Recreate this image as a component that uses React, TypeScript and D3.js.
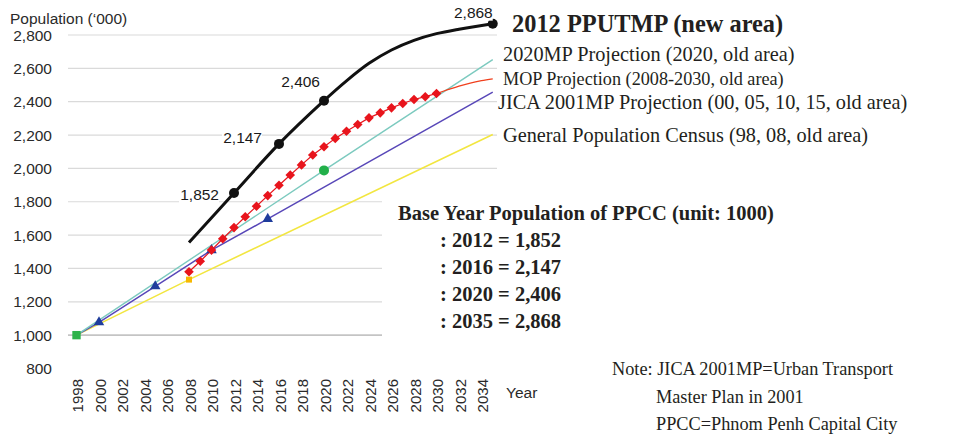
import React from 'react';
import * as d3 from 'd3';

// ---------- data ----------
const yTickValues = [800, 1000, 1200, 1400, 1600, 1800, 2000, 2200, 2400, 2600, 2800];
const xTickYears = [1998, 2000, 2002, 2004, 2006, 2008, 2010, 2012, 2014, 2016, 2018, 2020, 2022, 2024, 2026, 2028, 2030, 2032, 2034];

const ppYears = [2008, 2012, 2016, 2020, 2022, 2024, 2026, 2028, 2030, 2032, 2035];
const ppValues = [1555, 1852, 2147, 2406, 2525, 2630, 2710, 2768, 2808, 2835, 2868];
const ppMarkerYears = [2012, 2016, 2020, 2035];
const ppMarkerValues = [1852, 2147, 2406, 2868];
const ppMarkerLabels = ['1,852', '2,147', '2,406', '2,868'];

const mopYears = [2008, 2009, 2010, 2011, 2012, 2013, 2014, 2015, 2016, 2017, 2018, 2019, 2020, 2021, 2022, 2023, 2024, 2025, 2026, 2027, 2028, 2029, 2030];
const mopValues = [1380, 1443, 1510, 1578, 1645, 1710, 1773, 1837, 1899, 1960, 2021, 2080, 2130, 2180, 2223, 2263, 2303, 2333, 2363, 2389, 2413, 2430, 2449];
const mopExtYears = [2030, 2031, 2032, 2033, 2034, 2035];
const mopExtValues = [2449, 2472, 2494, 2512, 2526, 2537];

const mp2020Years = [1998, 2020, 2035];
const mp2020Values = [1000, 1988, 2652];
const mp2020MarkerYears = [2020];
const mp2020MarkerValues = [1988];

const jicaYears = [1998, 2000, 2005, 2010, 2015, 2035];
const jicaValues = [1000, 1077, 1293, 1510, 1697, 2457];
const jicaMarkerYears = [2000, 2005, 2010, 2015];
const jicaMarkerValues = [1077, 1293, 1510, 1697];

const censusYears = [1998, 2008, 2035];
const censusValues = [1000, 1333, 2203];
const censusMarkerYears = [2008];
const censusMarkerValues = [1333];

const baseYearTitle = 'Base Year Population of PPCC (unit: 1000)';
const baseYearLines = [': 2012 = 1,852', ': 2016 = 2,147', ': 2020 = 2,406', ': 2035 = 2,868'];
const noteLines = ['Note: JICA 2001MP=Urban Transport', 'Master Plan in 2001', 'PPCC=Phnom Penh Capital City'];

const legendTexts = [
  '2012 PPUTMP (new area)',
  '2020MP Projection (2020, old area)',
  'MOP Projection (2008-2030, old area)',
  'JICA 2001MP Projection (00, 05, 10, 15, old area)',
  'General Population Census (98, 08, old area)',
];

// ---------- layout / style ----------
const W = 956;
const H = 437;
const SANS = '"Liberation Sans", Arial, sans-serif';
const SERIF = '"Liberation Serif", "Times New Roman", serif';

const legendLayout = [
  { x: 512, y: 32, size: 24.4, weight: 'bold' },
  { x: 503, y: 61, size: 20.3, weight: 'normal' },
  { x: 503, y: 85, size: 18.2, weight: 'normal' },
  { x: 498, y: 109, size: 20.3, weight: 'normal' },
  { x: 503, y: 142, size: 20.3, weight: 'normal' },
];
const ppLabelOffsets = [
  { dx: -15, dy: 7 },
  { dx: -17, dy: -1 },
  { dx: -4, dy: -14 },
  { dx: 0, dy: -6 },
];

const pts = (xs: number[], ys: number[]) => xs.map((x, i) => [x, ys[i]] as [number, number]);

export default function App() {
  const x = d3.scaleLinear().domain([1998, 2035]).range([76.5, 492.75]);
  const y = d3.scaleLinear().domain([800, 2800]).range([368.5, 35]);

  const line = d3.line<[number, number]>().x((d) => x(d[0])).y((d) => y(d[1]));
  const smooth = d3
    .line<[number, number]>()
    .x((d) => x(d[0]))
    .y((d) => y(d[1]))
    .curve(d3.curveCatmullRom.alpha(0.5));

  const triangle = d3.symbol().type(d3.symbolTriangle).size(48)()!;
  const square = d3.symbol().type(d3.symbolSquare).size(46)()!;
  const bigSquare = d3.symbol().type(d3.symbolSquare).size(70)()!;
  const smallSquare = d3.symbol().type(d3.symbolSquare).size(36)()!;

  return (
    <svg width={W} height={H} style={{ position: 'absolute', left: 0, top: 0, background: '#fff' }}>
      <rect x={0} y={0} width={W} height={H} fill="#fff" />

      {/* gridlines */}
      {yTickValues
        .filter((v) => v >= 1000)
        .map((v) => (
          <line
            key={'g' + v}
            x1={68}
            x2={497}
            y1={y(v)}
            y2={y(v)}
            stroke={v === 1000 ? '#c4c4c4' : '#dadada'}
            strokeWidth={v === 1000 ? 1.6 : 1.2}
          />
        ))}

      {/* white box behind base year block */}
      <rect x={382} y={196} width={W - 382} height={146} fill="#fff" />

      {/* y-axis labels */}
      {yTickValues.map((v) => (
        <text
          key={'yl' + v}
          x={52}
          y={y(v)}
          dy="0.36em"
          textAnchor="end"
          fontFamily={SANS}
          fontSize={15.5}
          fill="#2a2a2a"
        >
          {d3.format(',')(v)}
        </text>
      ))}
      <text x={10} y={24} fontFamily={SANS} fontSize={15.5} fill="#2a2a2a">
        Population (‘000)
      </text>

      {/* x-axis labels */}
      {xTickYears.map((yr) => (
        <text
          key={'xl' + yr}
          transform={`translate(${x(yr) + 1.5},379) rotate(-90)`}
          dy="0.36em"
          textAnchor="end"
          fontFamily={SANS}
          fontSize={15}
          fill="#2a2a2a"
        >
          {yr}
        </text>
      ))}
      <text x={506} y={398} fontFamily={SANS} fontSize={15.5} fill="#2a2a2a">
        Year
      </text>

      {/* Census (yellow) */}
      <path d={line(pts(censusYears, censusValues))!} fill="none" stroke="#f2e640" strokeWidth={1.6} />
      {/* JICA (purple) */}
      <path d={line(pts(jicaYears, jicaValues))!} fill="none" stroke="#5847b8" strokeWidth={1.5} />
      {/* 2020MP (teal) */}
      <path d={line(pts(mp2020Years, mp2020Values))!} fill="none" stroke="#7ccabf" strokeWidth={1.4} />
      {/* MOP (red) */}
      <path d={smooth(pts(mopExtYears, mopExtValues))!} fill="none" stroke="#f0401e" strokeWidth={1.3} />
      <path d={line(pts(mopYears, mopValues))!} fill="none" stroke="#e8141c" strokeWidth={1.2} />

      {/* markers */}
      {censusMarkerYears.map((yr, i) => (
        <path
          key={'cm' + yr}
          d={smallSquare}
          transform={`translate(${x(yr)},${y(censusMarkerValues[i])})`}
          fill="#f7b800"
        />
      ))}
      {jicaMarkerYears.map((yr, i) => (
        <path
          key={'jm' + yr}
          d={triangle}
          transform={`translate(${x(yr)},${y(jicaMarkerValues[i])})`}
          fill="#1f3d9c"
        />
      ))}
      {mopYears.map((yr, i) => (
        <path
          key={'mm' + yr}
          d={square}
          transform={`translate(${x(yr)},${y(mopValues[i])}) rotate(45)`}
          fill="#e8141c"
        />
      ))}
      {mp2020MarkerYears.map((yr, i) => (
        <circle key={'tm' + yr} cx={x(yr)} cy={y(mp2020MarkerValues[i])} r={5} fill="#22b04a" />
      ))}
      <path d={bigSquare} transform={`translate(${x(1998)},${y(1000)})`} fill="#2db34a" />

      {/* PPUTMP (black) */}
      <path d={smooth(pts(ppYears, ppValues))!} fill="none" stroke="#111" strokeWidth={3} />
      {ppMarkerYears.map((yr, i) => (
        <circle key={'pm' + yr} cx={x(yr)} cy={y(ppMarkerValues[i])} r={5} fill="#111" />
      ))}
      {ppMarkerYears.map((yr, i) => {
        const tx = x(yr) + ppLabelOffsets[i].dx;
        const ty = y(ppMarkerValues[i]) + ppLabelOffsets[i].dy;
        return (
          <g key={'pl' + yr}>
            <rect x={tx - 40} y={ty - 13} width={40} height={16} fill="#fff" />
            <text x={tx} y={ty} textAnchor="end" fontFamily={SANS} fontSize={15.5} fill="#1a1a1a">
              {ppMarkerLabels[i]}
            </text>
          </g>
        );
      })}

      {/* legend texts */}
      {legendTexts.map((t, i) => (
        <text
          key={'lg' + i}
          x={legendLayout[i].x}
          y={legendLayout[i].y}
          fontFamily={SERIF}
          fontSize={legendLayout[i].size}
          fontWeight={legendLayout[i].weight}
          fill="#231f20"
        >
          {t}
        </text>
      ))}

      {/* base year block */}
      <text x={398} y={220} fontFamily={SERIF} fontSize={20.5} fontWeight="bold" fill="#231f20">
        {baseYearTitle}
      </text>
      {baseYearLines.map((t, i) => (
        <text
          key={'by' + i}
          x={440}
          y={247 + i * 27}
          fontFamily={SERIF}
          fontSize={20.5}
          fontWeight="bold"
          fill="#231f20"
        >
          {t}
        </text>
      ))}

      {/* note */}
      {noteLines.map((t, i) => (
        <text
          key={'nt' + i}
          x={i === 0 ? 612 : 656}
          y={375 + i * 27.5}
          fontFamily={SERIF}
          fontSize={18.3}
          fill="#231f20"
        >
          {t}
        </text>
      ))}
    </svg>
  );
}
